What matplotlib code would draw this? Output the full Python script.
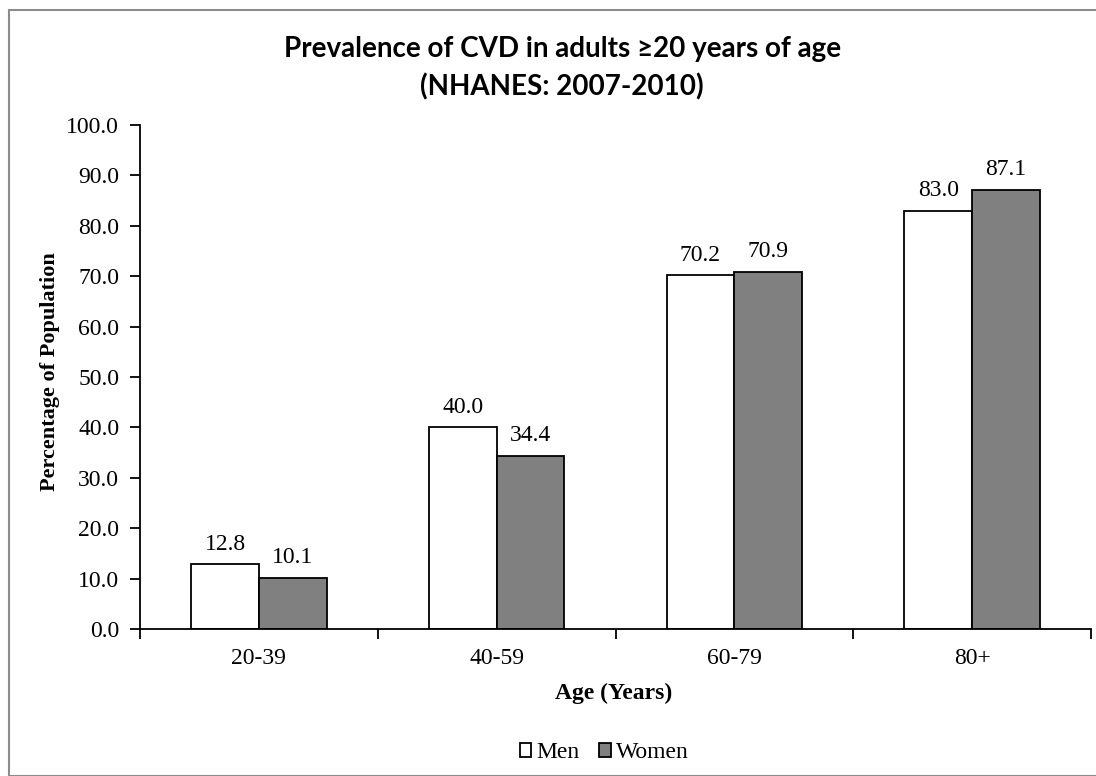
import numpy as np
import matplotlib
matplotlib.use("Agg")
import matplotlib.pyplot as plt
from matplotlib.patches import Rectangle

# Data
age_groups = ["20-39", "40-59", "60-79", "80+"]
men = [12.8, 40.0, 70.2, 83.0]
women = [10.1, 34.4, 70.9, 87.1]
y_ticks = np.arange(0, 101, 10)

SERIF = "Liberation Serif"
FS = 17

fig = plt.figure(figsize=(10.96, 7.76), dpi=100)
fig.patch.set_facecolor("white")

# thin grey frame around the chart area
fig.add_artist(Rectangle((9 / 1096, 0), 1.2, 1 - 10 / 776, transform=fig.transFigure,
                         fill=False, edgecolor="#8c8c8c", linewidth=1.5))

ax = fig.add_axes([140 / 1096, 1 - 629 / 776, (1091 - 140) / 1096, (629 - 125) / 776])

x = np.arange(len(age_groups))
w = 0.285
b1 = ax.bar(x - w / 2, men, w, color="white", edgecolor="black", linewidth=1.3, label="Men")
b2 = ax.bar(x + w / 2, women, w, color="#808080", edgecolor="black", linewidth=1.3, label="Women")

for bars, vals in ((b1, men), (b2, women)):
    for r, v in zip(bars, vals):
        ax.text(r.get_x() + r.get_width() / 2, v + 2.9, f"{v:.1f}", ha="center", va="baseline",
                fontsize=FS, family=SERIF)

ax.set_xlim(-0.5, len(age_groups) - 0.5)
ax.set_ylim(0, 100)
ax.set_yticks(y_ticks)
ax.set_yticklabels([f"{t:.1f}" for t in y_ticks], fontsize=FS, family=SERIF)

# category labels centred, ticks at category boundaries
ax.set_xticks(x)
ax.set_xticklabels(age_groups, fontsize=FS, family=SERIF)
ax.tick_params(axis="x", which="major", length=0, pad=14)
ax.set_xticks(np.arange(-0.5, len(age_groups)), minor=True)
ax.tick_params(axis="x", which="minor", length=7, width=1.3, direction="out")
ax.tick_params(axis="y", length=7, width=1.3, direction="out", pad=8)

for s in ("top", "right"):
    ax.spines[s].set_visible(False)
for s in ("left", "bottom"):
    ax.spines[s].set_linewidth(1.3)

ax.set_xlabel("Age (Years)", fontsize=FS, family=SERIF, fontweight="bold", va="center")
ax.xaxis.set_label_coords((614 - 140) / 951, (629 - 693) / 504)
ax.set_ylabel("Percentage of Population", fontsize=16, family=SERIF, fontweight="bold", va="center")
ax.yaxis.set_label_coords((50 - 140) / 951, (629 - 372) / 504)

fig.text(0.513, 1 - 68 / 776, "Prevalence of CVD in adults \u226520 years of age\n(NHANES: 2007-2010)",
         ha="center", va="center", fontsize=20, family="Lato", fontweight="bold", linespacing=1.5)

fig.legend(handles=[b1, b2], loc="center", bbox_to_anchor=(604 / 1096, 1 - 753 / 776), ncol=2,
           frameon=False, prop={"family": SERIF, "size": FS}, handlelength=0.5,
           handleheight=0.5, handletextpad=0.2, columnspacing=0.85)

fig.savefig("out.png", dpi=100)
